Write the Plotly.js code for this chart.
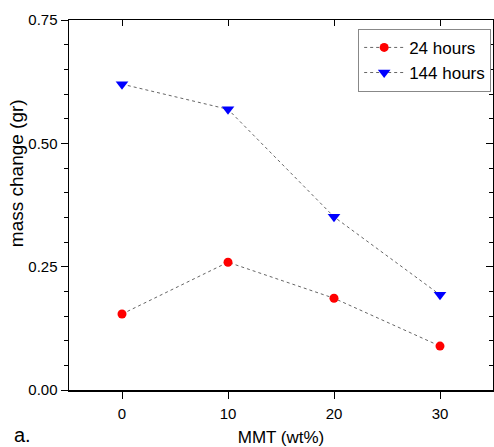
<!DOCTYPE html>
<html>
<head>
<meta charset="utf-8">
<script src="https://cdn.plot.ly/plotly-3.0.1.min.js"></script>
<style>html,body{margin:0;padding:0;background:#fff;}#chart{width:494px;height:447px;}</style>
</head>
<body>
<div id="chart"></div>
<script>
const mmt = [0, 10, 20, 30];
const hours24 = [0.154, 0.259, 0.186, 0.089];
const hours144 = [0.620, 0.569, 0.351, 0.193];
const seriesNames = ["24 hours", "144 hours"];
const yTicks = [0, 0.25, 0.5, 0.75];
const yTickText = ["0.00", "0.25", "0.50", "0.75"];
const xTicks = [0, 10, 20, 30];
const xTitle = "MMT (wt%)";
const yTitle = "mass change (gr)";
const panelLabel = "a.";

const font = "Liberation Sans, Arial, sans-serif";
const lineStyle = {color: "#666", width: 1, dash: "dot"};

const traces = [
  {x: mmt, y: hours24, name: seriesNames[0], mode: "lines+markers", type: "scatter",
   line: lineStyle, marker: {symbol: "circle", size: 9, color: "#ff0000"}},
  {x: mmt, y: hours144, name: seriesNames[1], mode: "lines+markers", type: "scatter",
   line: lineStyle, marker: {symbol: "triangle-down", size: 11, color: "#0000ff"}},
  // empty trace so the mirrored top/right frame axes get drawn
  {x: [null], y: [null], xaxis: "x2", yaxis: "y2", mode: "markers", type: "scatter",
   showlegend: false, hoverinfo: "skip"}
];

const layout = {
  width: 494, height: 447,
  margin: {l: 69, r: 1, t: 20, b: 57},
  paper_bgcolor: "#fff", plot_bgcolor: "#fff",
  font: {family: font, color: "#000", size: 14},
  showlegend: true,
  legend: {x: 0.682, y: 0.976, xanchor: "left", yanchor: "top",
    bordercolor: "#888", borderwidth: 1, bgcolor: "#fff",
    font: {family: font, size: 17, color: "#000"}, tracegroupgap: 0, itemwidth: 40},
  xaxis: {range: [-5, 35], tickvals: xTicks, ticks: "outside", ticklen: 7, tickwidth: 1,
    tickcolor: "#000", showline: true, linecolor: "#000", linewidth: 1.5, showgrid: false,
    zeroline: false, tickfont: {family: font, size: 15, color: "#000"}, ticklabelstandoff: 2,
    title: {text: xTitle, font: {size: 17}, standoff: 12}},
  yaxis: {range: [0, 0.75], tickmode: "array", tickvals: yTicks, ticktext: yTickText,
    ticks: "outside", ticklen: 7,
    tickwidth: 1, tickcolor: "#000", showline: true, linecolor: "#000", linewidth: 1.5,
    showgrid: false, zeroline: false, tickfont: {family: font, size: 15, color: "#000"},
    minor: {dtick: 0.05, ticks: "outside", ticklen: 4, tickcolor: "#000", tickwidth: 1, showgrid: false}},
  xaxis2: {overlaying: "x", side: "top", anchor: "y", range: [-5, 35], tickvals: xTicks,
    ticks: "inside", ticklen: 6, tickcolor: "#000", showticklabels: false, showline: true,
    linecolor: "#000", linewidth: 1.5, showgrid: false, zeroline: false},
  yaxis2: {overlaying: "y", side: "right", anchor: "x", range: [0, 0.75], tickvals: yTicks,
    ticks: "inside", ticklen: 7, tickcolor: "#000", showticklabels: false, showline: true,
    linecolor: "#000", linewidth: 1.5, showgrid: false, zeroline: false,
    minor: {dtick: 0.05, ticks: "inside", ticklen: 4, tickcolor: "#000", showgrid: false}},
  annotations: [
    {text: yTitle, textangle: -90, xref: "paper", yref: "paper", x: -0.125, y: 0.586,
     xanchor: "center", yanchor: "middle", showarrow: false, font: {family: font, size: 19, color: "#000"}},
    {text: panelLabel, xref: "paper", yref: "paper", x: -0.135, y: -0.158,
     xanchor: "left", yanchor: "bottom", showarrow: false, font: {family: font, size: 20, color: "#000"}}
  ]
};

Plotly.newPlot("chart", traces, layout, {displayModeBar: false, staticPlot: true}).then(function(gd){
  // report rendered tick label widths into the page title for debugging (not visible)
  const labs = document.querySelectorAll(".ytick text");
  const w = Array.from(labs).map(t => t.getBBox().width.toFixed(1) + "/" + t.style.fontSize);
  document.title = w.join(",");
});
</script>
</body>
</html>
